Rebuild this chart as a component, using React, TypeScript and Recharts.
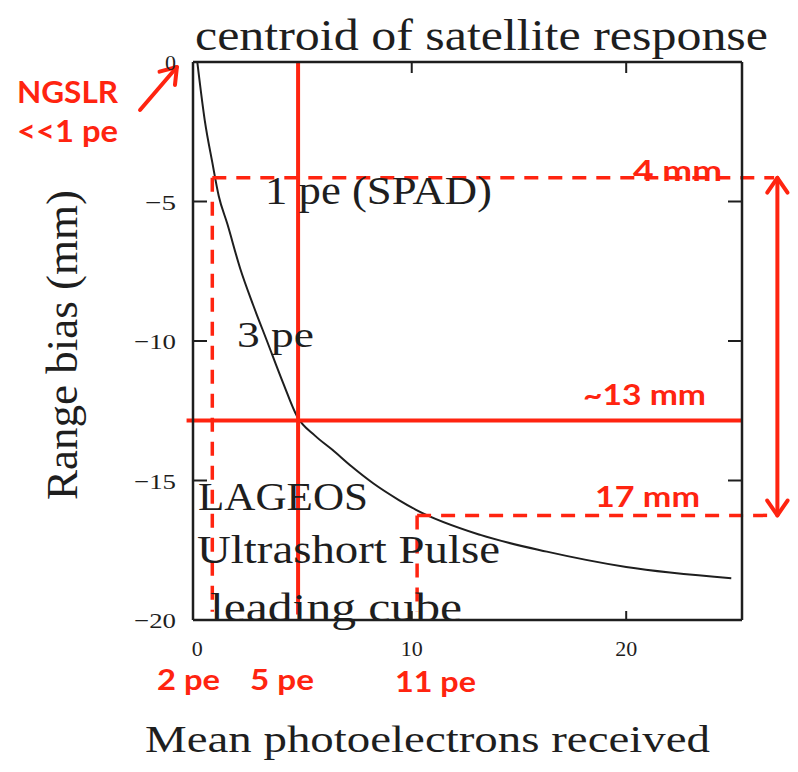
import React from "react";
import { LineChart, Line, XAxis, YAxis, ReferenceLine } from "recharts";

// curve
const photoelectrons = [0, 0.35, 0.7, 1, 1.4, 2, 2.6, 3.25, 4, 4.65, 5.5, 6.3, 7.2, 8.2, 9.4, 10.2, 13.2, 16.3, 20, 24.9];
const rangeBiasMm = [0, -2.1, -3.6, -4.8, -5.8, -7.4, -8.7, -10, -11.5, -12.7, -13.4, -13.9, -14.5, -15.1, -15.7, -16.05, -16.95, -17.55, -18.1, -18.5];

const xTicks = [0, 10, 20];
const xTopTicks = [10, 20];
const yTicks = [0, -5, -10, -15, -20];
const yRightTicks = [-5, -10, -15];

// red annotations (pe markers on x, bias levels on y)
const peMarkers = [0.7, 4.7, 10.25]; // "2 pe", "5 pe", "11 pe"
const biasLevels = [-4.15, -12.85, -16.25]; // "4 mm", "~13 mm", "17 mm"
const arrowX = 27.05;
const ngslrArrow = [{ x: -2.67, y: -1.72 }, { x: -0.95, y: -0.18 }];

const data = photoelectrons.map((x, i) => ({ x, y: rangeBiasMm[i] }));

const RED = "#ff2410";
const INK = "#1e1e1e";
const SERIF = "'Liberation Serif', 'DejaVu Serif', serif";
const SANS = "Lato, 'Open Sans', sans-serif";
const TM = 12;

const BottomTick = (p: any) => (
  <g>
    {p.payload.value !== 0 && (
      <line x1={p.x} x2={p.x} y1={p.y - TM} y2={p.y - TM - 9} stroke={INK} strokeWidth={2} />
    )}
    <text x={p.x} y={p.y + 24} textAnchor="middle" fontFamily={SERIF} fontSize={22} fill={INK}>
      {p.payload.value}
    </text>
  </g>
);

const TopTick = (p: any) => (
  <line x1={p.x} x2={p.x} y1={p.y + TM} y2={p.y + TM + 11} stroke={INK} strokeWidth={2} />
);

const LeftTick = (p: any) => {
  const v = p.payload.value;
  const label = v < 0 ? `\u2212${Math.abs(v)}` : `${v}`;
  const len = v === 0 ? undefined : Math.abs(v) < 10 ? 31 : 42;
  return (
    <g>
      {v !== 0 && v !== -20 && (
        <line x1={p.x + TM} x2={p.x + TM + 14} y1={p.y} y2={p.y} stroke={INK} strokeWidth={2} />
      )}
      <text
        x={p.x - 5}
        y={p.y + 8}
        textAnchor="end"
        fontFamily={SERIF}
        fontSize={22}
        fill={INK}
        textLength={len}
        lengthAdjust="spacingAndGlyphs"
      >
        {label}
      </text>
    </g>
  );
};

const RightTick = (p: any) => (
  <line x1={p.x - TM} x2={p.x - TM - 14} y1={p.y} y2={p.y} stroke={INK} strokeWidth={2} />
);

const arrowShape = (both: boolean) => (p: any) => {
  const { x1, y1, x2, y2 } = p;
  const a = Math.atan2(y2 - y1, x2 - x1);
  const head = (x: number, y: number, ang: number) => {
    const l = 18;
    const s = 0.6;
    return `M${x - l * Math.cos(ang - s)},${y - l * Math.sin(ang - s)} L${x},${y} L${x - l * Math.cos(ang + s)},${y - l * Math.sin(ang + s)}`;
  };
  return (
    <g stroke={RED} strokeWidth={4} fill="none" strokeLinecap="round" strokeLinejoin="round">
      <line x1={x1} y1={y1} x2={x2} y2={y2} />
      <path d={head(x2, y2, a)} />
      {both && <path d={head(x1, y1, a + Math.PI)} />}
    </g>
  );
};

const Overlay = () => (
  <svg
    width={798}
    height={772}
    style={{ position: "absolute", left: 0, top: 0, pointerEvents: "none" }}
  >
    <g fontFamily={SERIF} fill={INK}>
      <text x={195} y={50} fontSize={44} textLength={573} lengthAdjust="spacingAndGlyphs">
        centroid of satellite response
      </text>
      <text
        x={0}
        y={0}
        fontSize={44}
        textAnchor="middle"
        textLength={310}
        lengthAdjust="spacingAndGlyphs"
        transform="translate(77,345) rotate(-90)"
      >
        Range bias (mm)
      </text>
      <text x={145} y={752} fontSize={38} textLength={565} lengthAdjust="spacingAndGlyphs">
        Mean photoelectrons received
      </text>
      <text x={265} y={204} fontSize={40} textLength={227} lengthAdjust="spacingAndGlyphs">
        1 pe (SPAD)
      </text>
      <text x={237} y={347} fontSize={36} textLength={77} lengthAdjust="spacingAndGlyphs">
        3 pe
      </text>
      <text x={198} y={510} fontSize={40} textLength={170} lengthAdjust="spacingAndGlyphs">
        LAGEOS
      </text>
      <text x={197} y={563} fontSize={40} textLength={303} lengthAdjust="spacingAndGlyphs">
        Ultrashort Pulse
      </text>
      <text x={210} y={621} fontSize={40} textLength={252} lengthAdjust="spacingAndGlyphs">
        leading cube
      </text>
    </g>
    <g fontFamily={SANS} fontWeight={700} fill={RED}>
      <text x={17} y={103} fontSize={30} textLength={101} lengthAdjust="spacingAndGlyphs">NGSLR</text>
      <text x={17} y={142} fontSize={30} textLength={101} lengthAdjust="spacingAndGlyphs">&lt;&lt;1 pe</text>
      <text x={633} y={181} fontSize={28} textLength={89} lengthAdjust="spacingAndGlyphs">4 mm</text>
      <text x={583} y={405} fontSize={28} textLength={123} lengthAdjust="spacingAndGlyphs">~13 mm</text>
      <text x={595} y={507} fontSize={28} textLength={105} lengthAdjust="spacingAndGlyphs">17 mm</text>
      <text x={157} y={690} fontSize={28} textLength={63} lengthAdjust="spacingAndGlyphs">2 pe</text>
      <text x={250} y={690} fontSize={28} textLength={64} lengthAdjust="spacingAndGlyphs">5 pe</text>
      <text x={395} y={692} fontSize={28} textLength={81} lengthAdjust="spacingAndGlyphs">11 pe</text>
    </g>
  </svg>
);

export default function App() {
  return (
    <div style={{ position: "absolute", left: 0, top: 0, width: 798, height: 772, background: "#fff" }}>
      <LineChart
        width={798}
        height={772}
        data={data}
        margin={{ top: 52, right: 46, bottom: 122, left: 153 }}
      >
        <XAxis
          dataKey="x"
          type="number"
          domain={[-0.2, 25.4]}
          ticks={xTicks}
          allowDataOverflow
          height={30}
          tickSize={0}
          tickMargin={TM}
          tick={BottomTick}
          axisLine={{ stroke: INK, strokeWidth: 2.5 }}
        />
        <XAxis
          xAxisId="top"
          dataKey="x"
          orientation="top"
          type="number"
          domain={[-0.2, 25.4]}
          ticks={xTopTicks}
          allowDataOverflow
          height={10}
          tickSize={0}
          tickMargin={TM}
          tick={TopTick}
          axisLine={{ stroke: INK, strokeWidth: 2.5 }}
        />
        <YAxis
          type="number"
          domain={[-20, 0]}
          ticks={yTicks}
          allowDataOverflow
          width={40}
          tickSize={0}
          tickMargin={TM}
          tick={LeftTick}
          axisLine={{ stroke: INK, strokeWidth: 2.5 }}
        />
        <YAxis
          yAxisId="right"
          orientation="right"
          type="number"
          domain={[-20, 0]}
          ticks={yRightTicks}
          allowDataOverflow
          width={10}
          tickSize={0}
          tickMargin={TM}
          tick={RightTick}
          axisLine={{ stroke: INK, strokeWidth: 2.5 }}
        />
        <Line
          type="monotone"
          dataKey="y"
          stroke={INK}
          strokeWidth={2}
          dot={false}
          isAnimationActive={false}
        />

        {/* dashed guide lines */}
        <ReferenceLine
          segment={[{ x: peMarkers[0], y: biasLevels[0] }, { x: arrowX - 0.15, y: biasLevels[0] }]}
          stroke={RED}
          strokeWidth={3.5}
          strokeDasharray="14 10"
          ifOverflow="visible"
        />
        <ReferenceLine
          segment={[{ x: peMarkers[0], y: biasLevels[0] }, { x: peMarkers[0], y: -19.7 }]}
          stroke={RED}
          strokeWidth={3.5}
          strokeDasharray="14 10"
          ifOverflow="visible"
        />
        <ReferenceLine
          segment={[{ x: peMarkers[2], y: biasLevels[2] }, { x: arrowX - 0.15, y: biasLevels[2] }]}
          stroke={RED}
          strokeWidth={3.5}
          strokeDasharray="14 10"
          ifOverflow="visible"
        />
        <ReferenceLine
          segment={[{ x: peMarkers[2], y: biasLevels[2] }, { x: peMarkers[2], y: -19.7 }]}
          stroke={RED}
          strokeWidth={3.5}
          strokeDasharray="14 10"
          ifOverflow="visible"
        />

        {/* solid crosshair at 5 pe / ~13 mm */}
        <ReferenceLine
          segment={[{ x: peMarkers[1], y: 0 }, { x: peMarkers[1], y: -19.8 }]}
          stroke={RED}
          strokeWidth={4}
          ifOverflow="visible"
        />
        <ReferenceLine
          segment={[{ x: -0.5, y: biasLevels[1] }, { x: 25.4, y: biasLevels[1] }]}
          stroke={RED}
          strokeWidth={4}
          ifOverflow="visible"
        />

        {/* arrows */}
        <ReferenceLine
          segment={[{ x: arrowX, y: biasLevels[0] }, { x: arrowX, y: biasLevels[2] }]}
          ifOverflow="visible"
          shape={arrowShape(true)}
        />
        <ReferenceLine segment={ngslrArrow} ifOverflow="visible" shape={arrowShape(false)} />
      </LineChart>
      <Overlay />
    </div>
  );
}
